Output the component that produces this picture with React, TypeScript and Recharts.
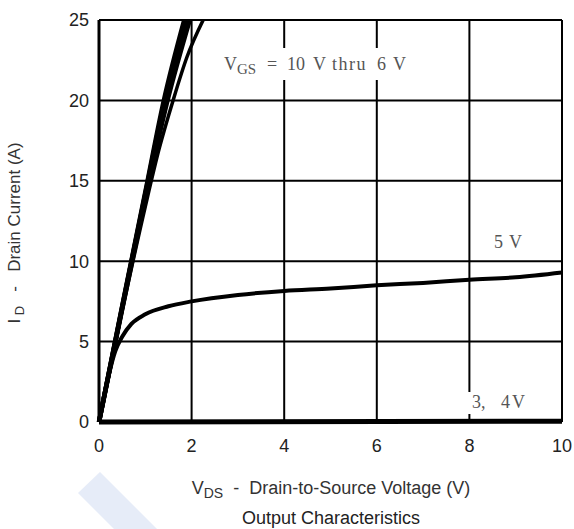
import React from "react";
import { LineChart, Line, XAxis, YAxis, CartesianGrid } from "recharts";

// Tick labels
const xTicks = [0, 2, 4, 6, 8, 10];
const yTicks = [0, 5, 10, 15, 20, 25];

// VGS = 10 V .. 6 V (steep linear-region curves)
const v10X = [0, 0.5, 1, 1.4, 1.84];
const v10Y = [0, 7.2, 14.3, 20, 25];
const v9X = [0, 0.5, 1, 1.42, 1.88];
const v9Y = [0, 7.15, 14.2, 20, 25];
const v8X = [0, 0.5, 1, 1.45, 1.92];
const v8Y = [0, 7.1, 14.1, 20, 25];
const v7X = [0, 0.5, 1, 1.48, 1.96];
const v7Y = [0, 7.0, 13.9, 20, 25];
const v6X = [0, 0.5, 1, 1.3, 1.6, 1.9, 2.25];
const v6Y = [0, 6.9, 13.4, 17, 20, 22.7, 25];
// VGS = 5 V
const v5X = [0, 0.2, 0.35, 0.5, 0.7, 1, 1.5, 2, 3, 4, 5, 6, 7, 8, 9, 10];
const v5Y = [0, 2.8, 4.4, 5.3, 6.1, 6.7, 7.2, 7.5, 7.9, 8.15, 8.3, 8.5, 8.65, 8.85, 9.0, 9.3];
// VGS = 3, 4 V
const v34X = [0, 10];
const v34Y = [0, 0.05];

const toData = (xs: number[], ys: number[]) => xs.map((x, i) => ({ x, y: ys[i] }));

const steep = [
  toData(v10X, v10Y),
  toData(v9X, v9Y),
  toData(v8X, v8Y),
  toData(v7X, v7Y),
];

const sans = "'Liberation Sans', Arial, sans-serif";
const serif = "'Liberation Serif', serif";

export default function App() {
  return (
    <div style={{ position: "absolute", left: 0, top: 0, width: 574, height: 529, background: "#fff" }}>
      <LineChart width={574} height={529} margin={{ top: 20, right: 12, bottom: 77, left: 0 }}>
        <CartesianGrid stroke="#000" strokeWidth={2} verticalValues={xTicks} horizontalValues={yTicks} />
        <XAxis
          type="number"
          dataKey="x"
          domain={[0, 10]}
          ticks={xTicks}
          allowDuplicatedCategory={false}
          height={30}
          tickSize={0}
          tickMargin={17}
          axisLine={{ stroke: "#000", strokeWidth: 2 }}
          tick={{ fill: "#222", fontSize: 18, fontFamily: sans }}
        />
        <YAxis
          type="number"
          domain={[0, 25]}
          ticks={yTicks}
          width={99}
          tickSize={0}
          tickMargin={10}
          axisLine={{ stroke: "#000", strokeWidth: 3 }}
          tick={{ fill: "#222", fontSize: 18, fontFamily: sans }}
        />
        {steep.map((d, i) => (
          <Line key={i} data={d} dataKey="y" type="monotone" stroke="#000" strokeWidth={4.5} dot={false} isAnimationActive={false} />
        ))}
        <Line data={toData(v6X, v6Y)} dataKey="y" type="monotone" stroke="#000" strokeWidth={3.5} dot={false} isAnimationActive={false} />
        <Line data={toData(v5X, v5Y)} dataKey="y" type="monotone" stroke="#000" strokeWidth={4} dot={false} isAnimationActive={false} />
        <Line data={toData(v34X, v34Y)} dataKey="y" type="linear" stroke="#000" strokeWidth={5} dot={false} isAnimationActive={false} />
      </LineChart>
      <svg width={574} height={529} style={{ position: "absolute", left: 0, top: 0, pointerEvents: "none" }}>
        <polygon points="100,472 78,493 114,529 157,529" fill="#e6ecf8" />
        {/* annotation: VGS = 10 V thru 6 V */}
        <rect x={215} y={48} width={195} height={32} fill="#fff" />
        <text fill="#555" fontFamily={serif} fontSize={18}>
          <tspan x={224} y={70}>V</tspan>
          <tspan x={237} y={74} fontSize={15}>GS</tspan>
          <tspan x={267} y={70}>=</tspan>
          <tspan x={287} y={70}>10</tspan>
          <tspan x={313} y={70}>V</tspan>
          <tspan x={332} y={70} letterSpacing={1.5}>thru</tspan>
          <tspan x={377} y={70}>6</tspan>
          <tspan x={393} y={70}>V</tspan>
        </text>
        {/* 5 V */}
        <text fill="#555" fontFamily={serif} fontSize={18}>
          <tspan x={494} y={248}>5</tspan>
          <tspan x={509} y={248}>V</tspan>
        </text>
        {/* 3, 4 V */}
        <rect x={465} y={392} width={66} height={22} fill="#fff" />
        <text fill="#555" fontFamily={serif} fontSize={18}>
          <tspan x={472} y={408}>3,</tspan>
          <tspan x={501} y={408}>4</tspan>
          <tspan x={512} y={408}>V</tspan>
        </text>
        {/* axis titles */}
        <text
          x={20}
          y={233}
          transform="rotate(-90 20 233)"
          textAnchor="middle"
          fill="#333"
          fontFamily={sans}
          fontSize={17}
          style={{ whiteSpace: "pre" }}
        >
          I<tspan fontSize={13} dy={4}>{" D"}</tspan>
          <tspan dy={-4}>{"   -   Drain Current (A)"}</tspan>
        </text>
        <text x={331} y={494} textAnchor="middle" fill="#333" fontFamily={sans} fontSize={18} style={{ whiteSpace: "pre" }}>
          V<tspan fontSize={14} dy={4}>DS</tspan>
          <tspan dy={-4}>{"  -  Drain-to-Source Voltage (V)"}</tspan>
        </text>
        <text x={331} y={524} textAnchor="middle" fill="#222" fontFamily={sans} fontSize={18}>
          Output Characteristics
        </text>
      </svg>
    </div>
  );
}
